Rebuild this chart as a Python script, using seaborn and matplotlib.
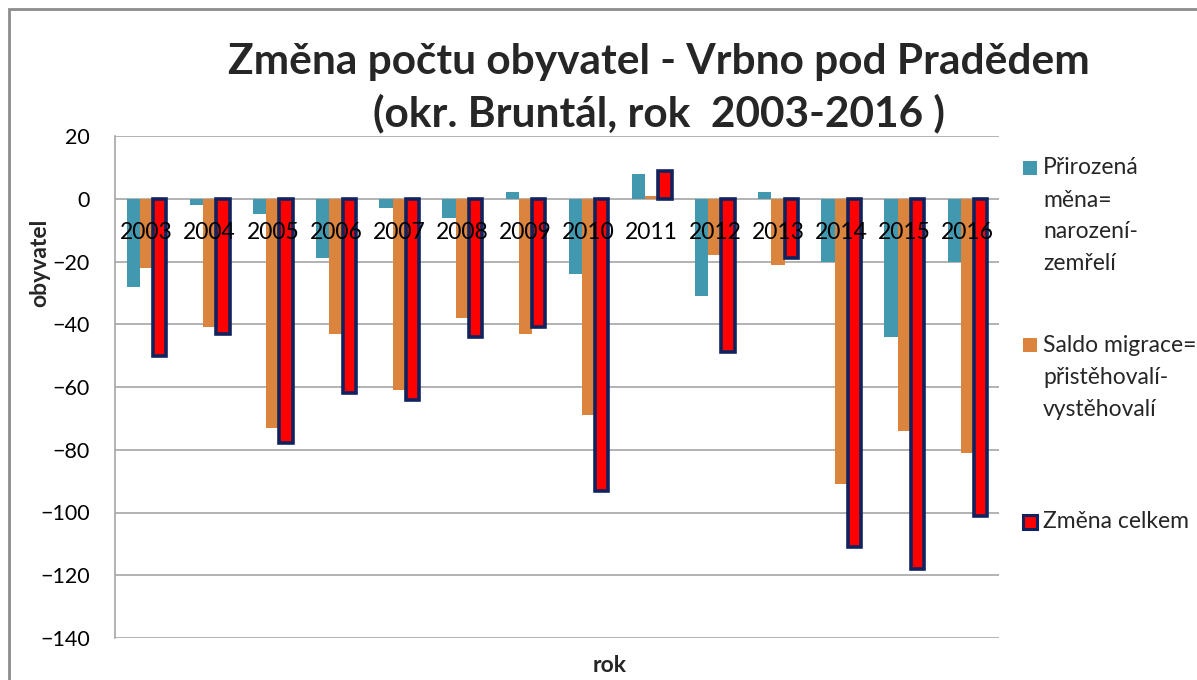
import matplotlib
matplotlib.use("Agg")
import matplotlib.pyplot as plt
import matplotlib.patches as mpatches
import pandas as pd
import seaborn as sns

# data
years = ['2003', '2004', '2005', '2006', '2007', '2008', '2009',
         '2010', '2011', '2012', '2013', '2014', '2015', '2016']
prirozena = [-28, -2, -5, -19, -3, -6, 2, -24, 8, -31, 2, -20, -44, -20]
migrace = [-22, -41, -73, -43, -61, -38, -43, -69, 1, -18, -21, -91, -74, -81]
celkem = [-50, -43, -78, -62, -64, -44, -41, -93, 9, -49, -19, -111, -118, -101]

series = ['Přirozená\nměna=\nnarození-\nzemřelí',
          'Saldo migrace=\npřistěhovalí-\nvystěhovalí',
          'Změna celkem']
colors = ['#4198af', '#db843d', '#ff0000']
red_edge = '#10235f'
grid_col = '#a6a6a6'

df = pd.DataFrame({
    'rok': years * 3,
    'obyvatel': prirozena + migrace + celkem,
    'serie': [series[0]] * len(years) + [series[1]] * len(years) + [series[2]] * len(years),
})

sns.set_theme(style="white")
plt.rcParams['font.family'] = ['Lato', 'DejaVu Sans']

W, H = 1197, 680
fig = plt.figure(figsize=(W / 100, H / 100), dpi=100)
ax = fig.add_axes([115 / W, 1 - 638 / H, (999 - 115) / W, (638 - 136) / H])

sns.barplot(data=df, x='rok', y='obyvatel', hue='serie', hue_order=series,
            palette=colors, saturation=1, width=0.63, gap=0, linewidth=0,
            legend=False, ax=ax)

for bar in ax.containers[2]:
    bar.set_edgecolor(red_edge)
    bar.set_linewidth(2.6)

ax.set_ylim(-140, 20)
ax.set_yticks(range(-140, 21, 20))
ax.yaxis.grid(True, color=grid_col, lw=1.2)
ax.xaxis.grid(False)
ax.set_axisbelow(True)
ax.xaxis.set_zorder(3)

ax.spines['bottom'].set_position(('data', 0))
ax.spines['bottom'].set_visible(False)
ax.spines['top'].set_visible(False)
ax.spines['right'].set_visible(False)
ax.spines['left'].set_color(grid_col)
ax.spines['left'].set_linewidth(1.2)

ax.tick_params(axis='x', length=0, pad=17, labelsize=16.5, labelcolor='black')
ax.tick_params(axis='y', length=0, pad=18, labelsize=15.5, labelcolor='black')
ax.set_xlabel('')
ax.set_ylabel('')

# titles and axis labels
fig.text(659 / W, 1 - 62 / H, 'Změna počtu obyvatel - Vrbno pod Pradědem',
         ha='center', va='center', fontsize=30.5, fontweight='bold')
fig.text(659 / W, 1 - 113 / H, '(okr. Bruntál, rok  2003-2016 )',
         ha='center', va='center', fontsize=30.5, fontweight='bold')
fig.text(40 / W, 1 - 263 / H, 'obyvatel', rotation=90, ha='center', va='center',
         fontsize=16.5, fontweight='bold')
fig.text(610 / W, 1 - 666 / H, 'rok', ha='center', va='center',
         fontsize=16.5, fontweight='bold')

# legend
entry_y = [168, 345, 522]
for name, col, y0 in zip(series, colors, entry_y):
    edge = red_edge if col == '#ff0000' else col
    lw = 2.2 if col == '#ff0000' else 0
    fig.patches.append(mpatches.Rectangle((1023 / W, 1 - (y0 + 7) / H), 14 / W, 14 / H,
                                          transform=fig.transFigure, facecolor=col,
                                          edgecolor=edge, lw=lw))
    for k, line in enumerate(name.split('\n')):
        fig.text(1043 / W, 1 - (y0 + 32 * k) / H, line, ha='left', va='center',
                 fontsize=16.5)

# outer chart border
fig.patches.append(mpatches.Rectangle((9 / W, -0.1), 1.2, 1.1 - 9 / H,
                                      transform=fig.transFigure, fill=False,
                                      edgecolor='#8c8c8c', lw=2))

fig.savefig('out.png', dpi=100)
